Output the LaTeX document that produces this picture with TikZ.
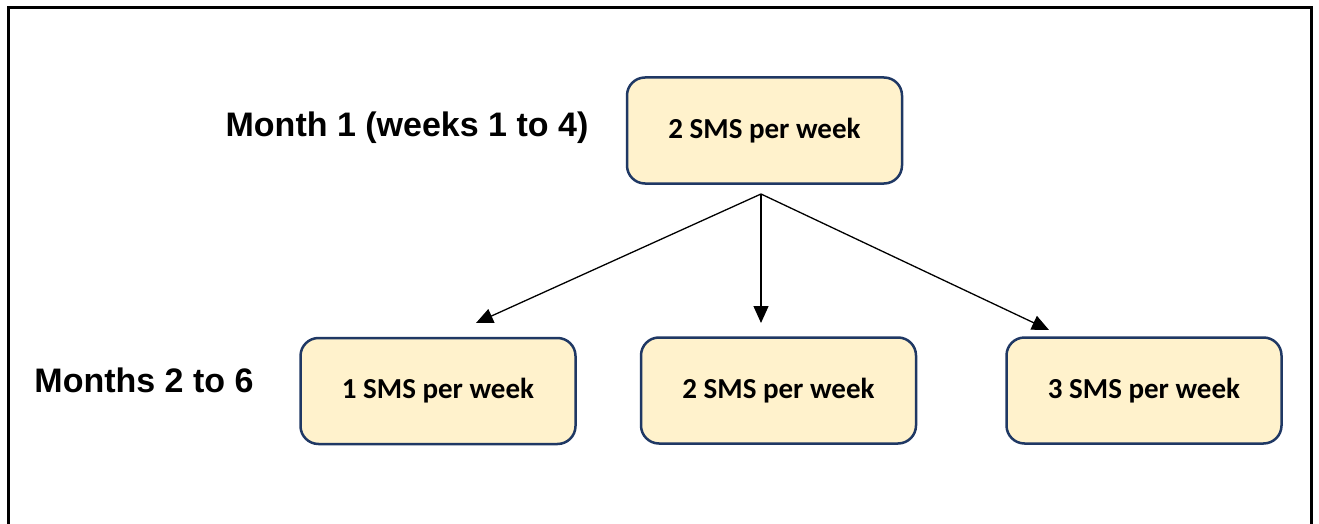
\documentclass[tikz,border=0pt]{standalone}
\usepackage{fontspec}
\setmainfont{Liberation Sans}
\newfontfamily\boxfont{Carlito}
\usetikzlibrary{arrows.meta}
\definecolor{boxfill}{HTML}{FFF2CC}
\definecolor{boxline}{HTML}{1F3864}
\tikzset{
  smsbox/.style={draw=boxline, fill=boxfill, line width=2.5pt, rounded corners=18pt,
    minimum width=275pt, minimum height=106pt, inner sep=0pt,
    font=\boxfont\bfseries\fontsize{29}{34}\selectfont},
  rowlabel/.style={font=\bfseries\fontsize{34}{40}\selectfont, inner sep=0pt},
  conn/.style={line width=1.3pt, -{Triangle[length=17pt,width=15pt]}}
}
\begin{document}
\begin{tikzpicture}[x=1pt,y=-1pt]
\useasboundingbox (0,0) rectangle (1319,524);
\fill[white] (0,0) rectangle (1319,524);
\draw[line width=3pt] (8.5,8) rectangle (1311,560);
\node[rowlabel] (m1) at (407,128) {Month 1 (weeks 1 to 4)};
\node[rowlabel] (m2) at (144,380) {Months 2 to 6};
\node[smsbox] (top) at (764.5,130.5) {2 SMS per week};
\node[smsbox] (b1) at (438,391) {1 SMS per week};
\node[smsbox] (b2) at (778.5,390.5) {2 SMS per week};
\node[smsbox] (b3) at (1144,390.5) {3 SMS per week};
\coordinate (apex) at (761,194);
\coordinate (e1) at (476,323);
\coordinate (e2) at (761,323);
\coordinate (e3) at (1049,330);
\draw[conn] (apex) -- (e1);
\draw[conn] (apex) -- (e2);
\draw[conn] (apex) -- (e3);
\end{tikzpicture}
\end{document}
